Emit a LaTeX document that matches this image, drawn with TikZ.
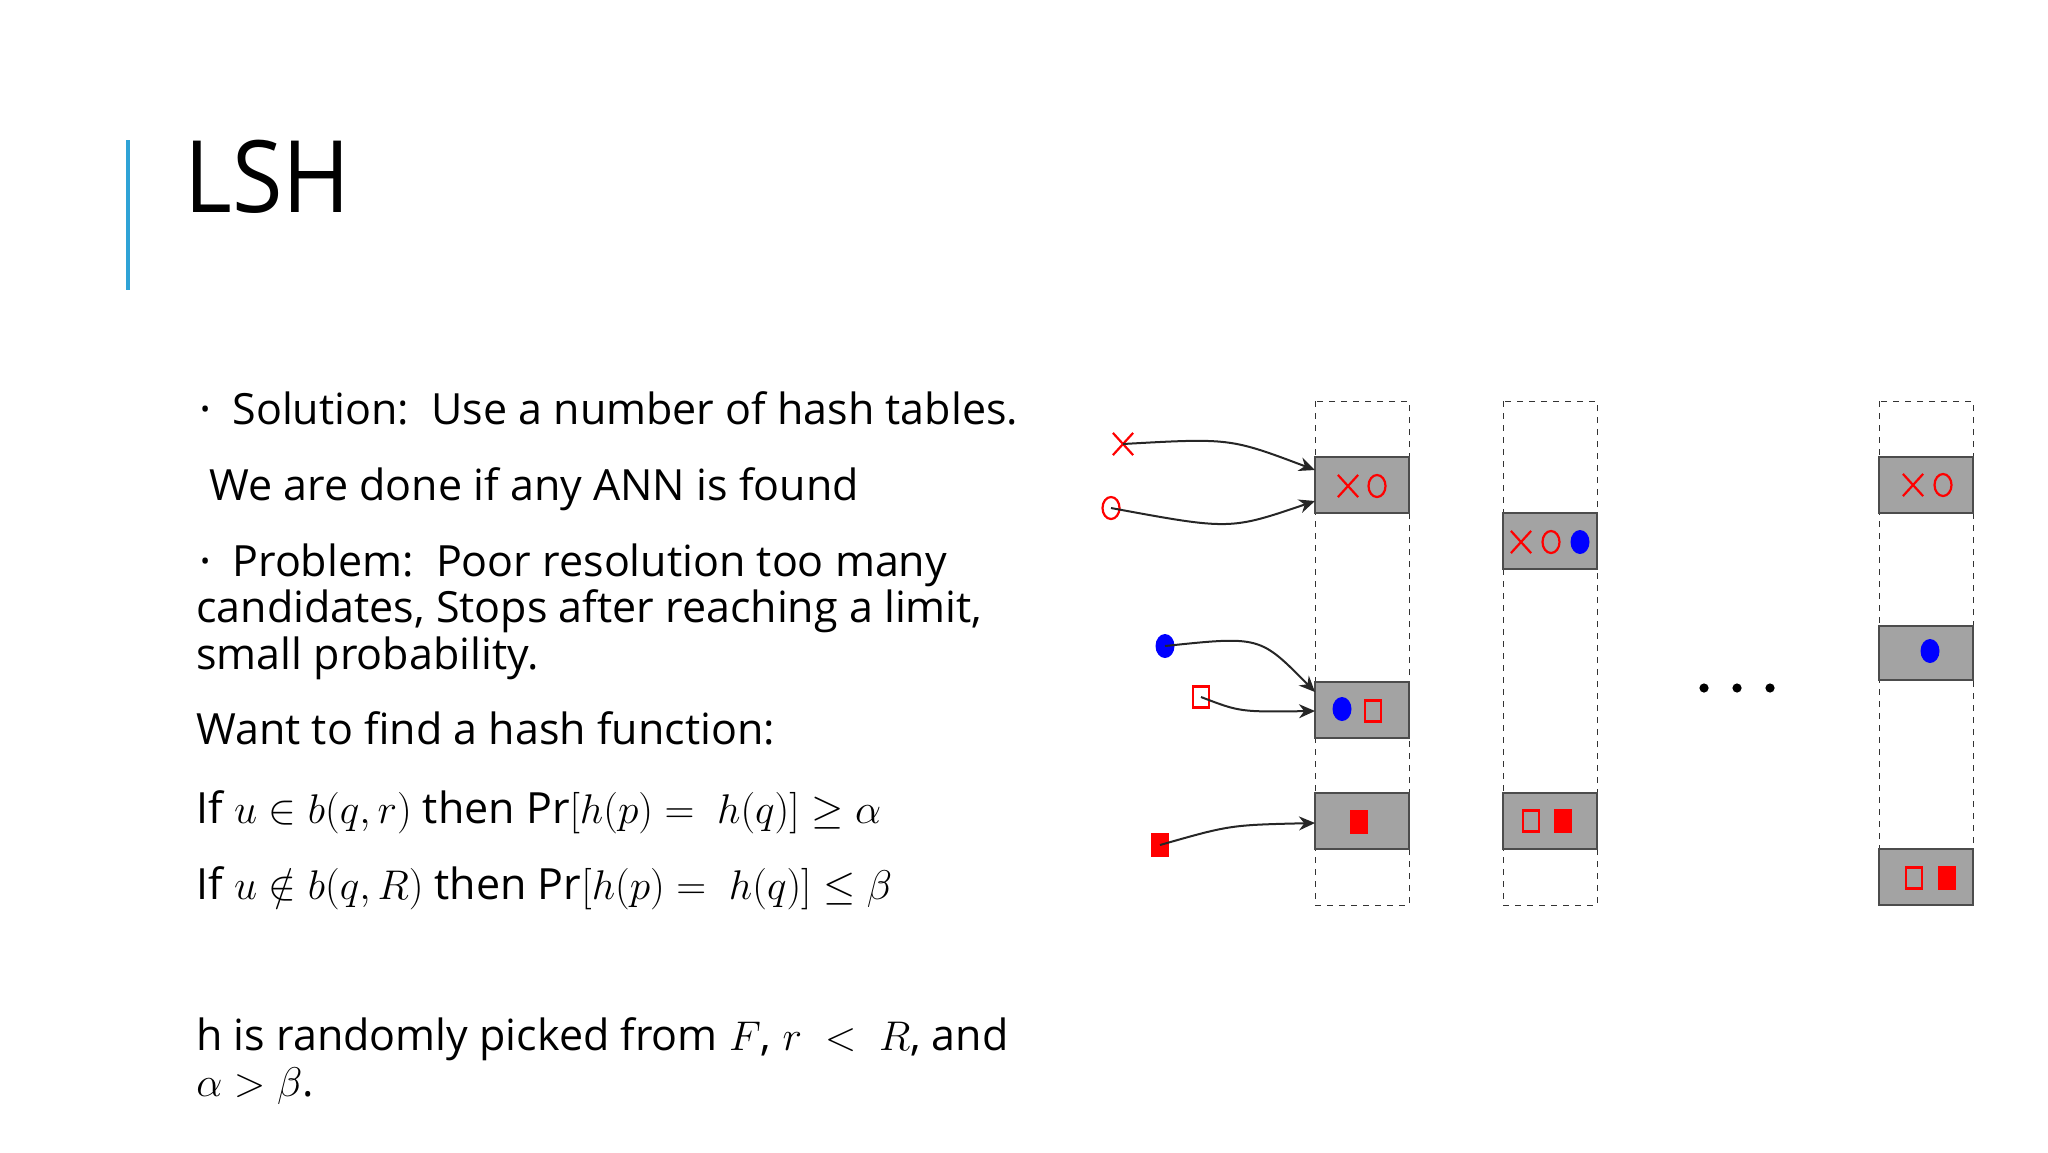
\documentclass[tikz,border=0pt]{standalone}
\usepackage{amsmath,amssymb}
\usepackage{fontspec}
\setmainfont{Open Sans}
\usetikzlibrary{calc, positioning, shapes.misc, shapes.geometric, arrows.meta}
\definecolor{barblue}{HTML}{2FA3D6}
\definecolor{slotgray}{HTML}{A3A3A3}
\tikzset{
    txt/.style={anchor=base west, inner sep=0pt, font=\fontsize{21.5}{24}\selectfont},
    col/.style={draw=black!80, dashed, thin},
    slot/.style={fill=slotgray, draw=black!70, line width=0.8pt},
    mx/.style={cross out, draw=red, line width=1.1pt, minimum width=9pt, minimum height=10pt, inner sep=0pt},
    mo/.style={ellipse, draw=red, line width=1.1pt, minimum width=8.5pt, minimum height=11pt, inner sep=0pt},
    mb/.style={ellipse, fill=blue, minimum width=9.5pt, minimum height=12pt, inner sep=0pt},
    ms/.style={rectangle, draw=red, line width=1.1pt, minimum width=8pt, minimum height=10.5pt, inner sep=0pt},
    mf/.style={rectangle, fill=red, minimum width=9pt, minimum height=12pt, inner sep=0pt},
    link/.style={-{Stealth[length=8pt,width=7pt]}, line width=1pt, black!85}
}
\newcommand{\bul}{\raisebox{0.25ex}{\scalebox{0.6}{\textbullet}}}
\begin{document}
\begin{tikzpicture}[x=0.5pt, y=-0.5pt]
    \useasboundingbox (0,0) rectangle (2048,1152);
    % title
    \draw[barblue, line width=1.6pt] (128,140) -- (128,290);
    \node[anchor=base west, inner sep=0pt, font=\fontsize{50}{54}\selectfont] (title) at (184,212) {\scalebox{0.92}[1]{LSH}};
    % text
    \node[txt] (t1) at (200,424) {\bul\ \ Solution:\ \ Use a number of hash tables.};
    \node[txt] (t2) at (209,500) {We are done if any ANN is found};
    \node[txt] (t3) at (200,576) {\bul\ \ Problem:\ \ Poor resolution too many};
    \node[txt] (t4) at (196,622) {candidates, Stops after reaching a limit,};
    \node[txt] (t5) at (196,669) {small probability.};
    \node[txt] (t6) at (196,744) {Want to find a hash function:};
    \node[txt] (t7) at (196,823) {If $u \in b(q,r)$ then $\Pr[h(p) = \ h(q)] \geq \alpha$};
    \node[txt] (t8) at (196,899) {If $u \notin b(q,R)$ then $\Pr[h(p) = \ h(q)] \leq \beta$};
    \node[txt] (t9) at (196,1050) {h is randomly picked from $F$, $r\ <\ R$, and};
    \node[txt] (t10) at (196,1096) {$\alpha > \beta$.};
    % tables
    \foreach \x in {1315,1503,1879} {
        \draw[col] (\x,401) rectangle (\x+94,905);
    }
    \draw[slot] (1315,457) rectangle (1409,513);
    \draw[slot] (1315,682) rectangle (1409,738);
    \draw[slot] (1315,793) rectangle (1409,849);
    \draw[slot] (1503,513) rectangle (1597,569);
    \draw[slot] (1503,793) rectangle (1597,849);
    \draw[slot] (1879,457) rectangle (1973,513);
    \draw[slot] (1879,626) rectangle (1973,680);
    \draw[slot] (1879,849) rectangle (1973,905);
    % slot contents
    \node[mx] at (1348,486) {}; \node[mo] at (1377,486) {};
    \node[mb] at (1342,709) {}; \node[ms] at (1373,711) {};
    \node[mf] at (1359,822) {};
    \node[mx] at (1521,542) {}; \node[mo] at (1551,542) {}; \node[mb] at (1580,542) {};
    \node[ms] at (1531,821) {}; \node[mf] at (1563,821) {};
    \node[mx] at (1913,485) {}; \node[mo] at (1943,485) {};
    \node[mb] at (1930,651) {};
    \node[ms] at (1914,878) {}; \node[mf] at (1947,878) {};
    % query points
    \node[mx] (qx) at (1123,444) {};
    \node[mo] (qo) at (1111,508) {};
    \node[mb] (qb) at (1165,646) {};
    \node[ms] (qs) at (1201,697) {};
    \node[mf] (qf) at (1160,845) {};
    \coordinate (ex) at (1315,470);
    \coordinate (eo) at (1315,501);
    \coordinate (eb) at (1315,692);
    \coordinate (es) at (1315,711);
    \coordinate (ef) at (1315,823);
    \draw[link] (qx.center) .. controls (1230,438) .. (ex);
    \draw[link] (qo.center) .. controls (1230,530) .. (eo);
    \draw[link] (qb.center) .. controls (1260,636) .. (eb);
    \draw[link] (qs.center) .. controls (1240,712) .. (es);
    \draw[link] (qf.center) .. controls (1230,825) .. (ef);
    % dots
    \foreach \x in {1704,1737,1770} {
        \fill (\x,688) circle (2.3pt);
    }
\end{tikzpicture}
\end{document}
